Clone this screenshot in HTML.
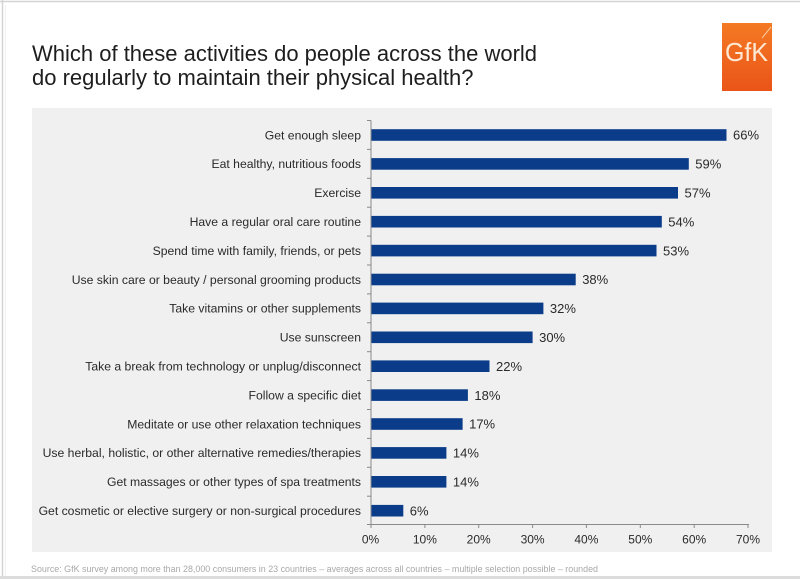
<!DOCTYPE html>
<html><head><meta charset="utf-8"><style>
html,body{margin:0;padding:0;background:#fff;}
svg{display:block;}
text{font-family:"Liberation Sans",Arial,sans-serif;}
</style></head><body>
<svg width="800" height="579" viewBox="0 0 800 579" xmlns="http://www.w3.org/2000/svg">
<rect x="0" y="0" width="800" height="579" fill="#ffffff"/>
<line x1="0" y1="1.5" x2="800" y2="1.5" stroke="#d4d4d4" stroke-width="1.5"/>
<line x1="2.5" y1="0" x2="2.5" y2="576" stroke="#d4d4d4" stroke-width="1.5"/>
<line x1="5.5" y1="5" x2="5.5" y2="576" stroke="#f0f0f0" stroke-width="1"/>
<rect x="0" y="576" width="800" height="3" fill="#dcdcdc"/>

<text x="32" y="61" font-size="22" fill="#1e1e1e">Which of these activities do people across the world</text>
<text x="32" y="85" font-size="22" fill="#1e1e1e">do regularly to maintain their physical health?</text>

<defs><linearGradient id="og" x1="0" y1="0" x2="0" y2="1">
<stop offset="0" stop-color="#f47a24"/><stop offset="1" stop-color="#ea5418"/></linearGradient></defs>
<rect x="722" y="23" width="50" height="68" fill="url(#og)"/>
<line x1="771" y1="27" x2="762" y2="38" stroke="#fbc9a0" stroke-width="1"/>
<text x="746.5" y="61" font-size="26" fill="#fde9d4" text-anchor="middle" textLength="43" lengthAdjust="spacingAndGlyphs">GfK</text>

<rect x="32" y="108" width="740" height="444" fill="#f0f0f0"/>

<g fill="#0a3c8a">
<rect x="371" y="129.2" width="355.5" height="11.6"/>
<rect x="371" y="158.1" width="317.8" height="11.6"/>
<rect x="371" y="187.0" width="307.0" height="11.6"/>
<rect x="371" y="215.9" width="290.8" height="11.6"/>
<rect x="371" y="244.8" width="285.5" height="11.6"/>
<rect x="371" y="273.7" width="204.7" height="11.6"/>
<rect x="371" y="302.6" width="172.4" height="11.6"/>
<rect x="371" y="331.5" width="161.6" height="11.6"/>
<rect x="371" y="360.4" width="118.5" height="11.6"/>
<rect x="371" y="389.3" width="96.9" height="11.6"/>
<rect x="371" y="418.2" width="91.6" height="11.6"/>
<rect x="371" y="447.1" width="75.4" height="11.6"/>
<rect x="371" y="476.0" width="75.4" height="11.6"/>
<rect x="371" y="504.9" width="32.3" height="11.6"/>
</g>

<g stroke="#8a8a8a" stroke-width="1">
<line x1="371" y1="120.5" x2="371" y2="524.5"/>
<line x1="371" y1="524.5" x2="749" y2="524.5"/>
<line x1="367" y1="120.5" x2="371" y2="120.5"/>
<line x1="367" y1="149.4" x2="371" y2="149.4"/>
<line x1="367" y1="178.3" x2="371" y2="178.3"/>
<line x1="367" y1="207.2" x2="371" y2="207.2"/>
<line x1="367" y1="236.1" x2="371" y2="236.1"/>
<line x1="367" y1="265.0" x2="371" y2="265.0"/>
<line x1="367" y1="293.9" x2="371" y2="293.9"/>
<line x1="367" y1="322.8" x2="371" y2="322.8"/>
<line x1="367" y1="351.7" x2="371" y2="351.7"/>
<line x1="367" y1="380.6" x2="371" y2="380.6"/>
<line x1="367" y1="409.5" x2="371" y2="409.5"/>
<line x1="367" y1="438.4" x2="371" y2="438.4"/>
<line x1="367" y1="467.3" x2="371" y2="467.3"/>
<line x1="367" y1="496.2" x2="371" y2="496.2"/>
<line x1="367" y1="524.5" x2="371" y2="524.5"/>
<line x1="371" y1="524.5" x2="371" y2="528"/>
<line x1="424.9" y1="524.5" x2="424.9" y2="528"/>
<line x1="478.7" y1="524.5" x2="478.7" y2="528"/>
<line x1="532.6" y1="524.5" x2="532.6" y2="528"/>
<line x1="586.4" y1="524.5" x2="586.4" y2="528"/>
<line x1="640.3" y1="524.5" x2="640.3" y2="528"/>
<line x1="694.2" y1="524.5" x2="694.2" y2="528"/>
<line x1="748" y1="524.5" x2="748" y2="528"/>
</g>

<g font-size="12.2" fill="#2a2a2a" text-anchor="end">
<text x="361" y="139.3">Get enough sleep</text>
<text x="361" y="168.2">Eat healthy, nutritious foods</text>
<text x="361" y="197.1">Exercise</text>
<text x="361" y="226.0">Have a regular oral care routine</text>
<text x="361" y="254.9">Spend time with family, friends, or pets</text>
<text x="361" y="283.8">Use skin care or beauty / personal grooming products</text>
<text x="361" y="312.7">Take vitamins or other supplements</text>
<text x="361" y="341.6">Use sunscreen</text>
<text x="361" y="370.5">Take a break from technology or unplug/disconnect</text>
<text x="361" y="399.4">Follow a specific diet</text>
<text x="361" y="428.3">Meditate or use other relaxation techniques</text>
<text x="361" y="457.2">Use herbal, holistic, or other alternative remedies/therapies</text>
<text x="361" y="486.1">Get massages or other types of spa treatments</text>
<text x="361" y="515.0">Get cosmetic or elective surgery or non-surgical procedures</text>
</g>

<g font-size="13" fill="#2a2a2a">
<text x="733" y="139.7">66%</text>
<text x="695.3" y="168.6">59%</text>
<text x="684.5" y="197.5">57%</text>
<text x="668.3" y="226.4">54%</text>
<text x="663" y="255.3">53%</text>
<text x="582.2" y="284.2">38%</text>
<text x="549.9" y="313.1">32%</text>
<text x="539.1" y="342.0">30%</text>
<text x="496" y="370.9">22%</text>
<text x="474.4" y="399.8">18%</text>
<text x="469.1" y="428.7">17%</text>
<text x="452.9" y="457.6">14%</text>
<text x="452.9" y="486.5">14%</text>
<text x="409.8" y="515.4">6%</text>
</g>

<g font-size="12" fill="#2a2a2a" text-anchor="middle">
<text x="370.5" y="543.5">0%</text>
<text x="424.9" y="543.5">10%</text>
<text x="478.7" y="543.5">20%</text>
<text x="532.6" y="543.5">30%</text>
<text x="586.4" y="543.5">40%</text>
<text x="640.3" y="543.5">50%</text>
<text x="694.2" y="543.5">60%</text>
<text x="748" y="543.5">70%</text>
</g>

<text x="31" y="572" font-size="9" fill="#a8a8a8" textLength="567" lengthAdjust="spacingAndGlyphs">Source: GfK survey among more than 28,000 consumers in 23 countries – averages across all countries – multiple selection possible – rounded</text>
</svg>
</body></html>
